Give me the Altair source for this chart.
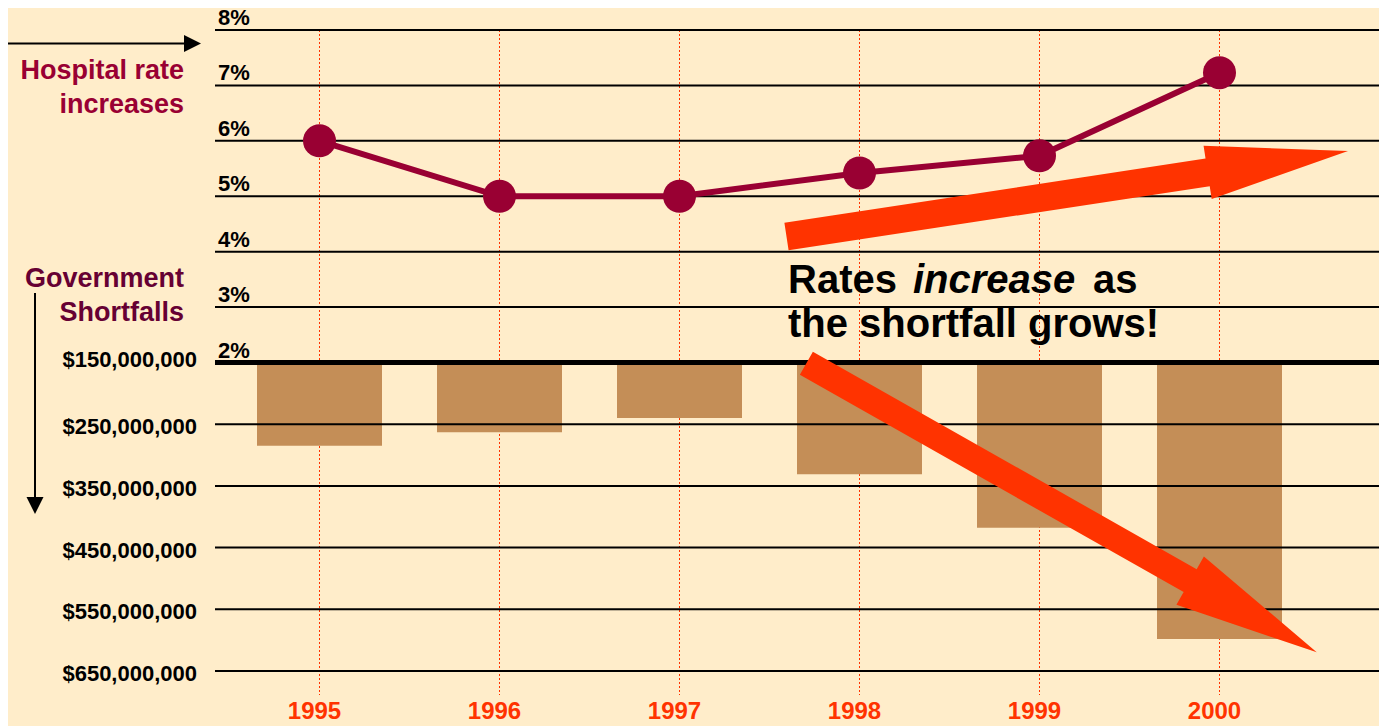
import altair as alt
import pandas as pd

# ---------------- data ----------------
years = [1995, 1996, 1997, 1998, 1999, 2000]
year_labels = ["1995", "1996", "1997", "1998", "1999", "2000"]
rate_pct = [6.0, 5.0, 5.0, 5.42, 5.73, 7.23]
shortfall_usd = [285e6, 263e6, 240e6, 331e6, 418e6, 598e6]

pct_ticks = [2, 3, 4, 5, 6, 7, 8]
pct_tick_labels = ["2%", "3%", "4%", "5%", "6%", "7%", "8%"]
usd_ticks = [150e6, 250e6, 350e6, 450e6, 550e6, 650e6]
usd_tick_labels = ["$150,000,000", "$250,000,000", "$350,000,000",
                   "$450,000,000", "$550,000,000", "$650,000,000"]

df = pd.DataFrame({"year": years, "label": year_labels,
                   "rate": rate_pct, "shortfall": shortfall_usd})
df_pct = pd.DataFrame({"v": pct_ticks, "label": pct_tick_labels})
df_usd = pd.DataFrame({"v": usd_ticks, "label": usd_tick_labels})
one = pd.DataFrame({"a": [0]})

# ---------------- styling ----------------
W, H = 1164, 641
BG = "#FFEDCA"
ORANGE = "#FF3300"
CRIMSON = "#990033"
MAROON = "#660033"
BAR = "#C48E57"
FONT = "Liberation Sans, Arial, Helvetica, sans-serif"

xscale = alt.Scale(domain=[1994.41944, 2000.886111], nice=False, zero=False, padding=0)
top_scale = alt.Scale(domain=[2, 8], range=[332.5, 0], nice=False, zero=False)
bot_scale = alt.Scale(domain=[150e6, 650e6], range=[332.5, 641], nice=False, zero=False)

X = alt.X("year:Q", scale=xscale, axis=None)

dotted = alt.Chart(df).mark_rule(color=ORANGE, strokeDash=[2, 2], strokeWidth=1).encode(
    x=X, y=alt.value(0), y2=alt.value(665))

bars = alt.Chart(df).mark_bar(size=125, color=BAR).encode(
    x=X,
    y=alt.Y("shortfall:Q", scale=bot_scale, axis=None),
    y2=alt.datum(150e6))

grid_top = alt.Chart(df_pct[df_pct.v > 2]).mark_rule(color="black", strokeWidth=2).encode(
    y=alt.Y("v:Q", scale=top_scale, axis=None), x=alt.value(0), x2=alt.value(W))

grid_bot = alt.Chart(df_usd[df_usd.v > 150e6]).mark_rule(color="black", strokeWidth=2).encode(
    y=alt.Y("v:Q", scale=bot_scale, axis=None), x=alt.value(0), x2=alt.value(W))

base_line = alt.Chart(df_pct[df_pct.v == 2]).mark_rule(color="black", strokeWidth=5).encode(
    y=alt.Y("v:Q", scale=top_scale, axis=None), x=alt.value(0), x2=alt.value(W))

line = alt.Chart(df).mark_line(color=CRIMSON, strokeWidth=6).encode(
    x=X, y=alt.Y("rate:Q", scale=top_scale, axis=None))

points = alt.Chart(df).mark_circle(size=1090, color=CRIMSON, opacity=1).encode(
    x=X, y=alt.Y("rate:Q", scale=top_scale, axis=None))

pct_labels = alt.Chart(df_pct).mark_text(
    align="left", baseline="alphabetic", dy=-5, fontSize=22, fontWeight="bold",
    font=FONT, color="black").encode(
    x=alt.value(3), y=alt.Y("v:Q", scale=top_scale, axis=None), text="label:N")

usd_labels = alt.Chart(df_usd[df_usd.v > 150e6]).mark_text(
    align="right", baseline="alphabetic", dy=10, fontSize=22, fontWeight="bold",
    font=FONT, color="black").encode(
    x=alt.value(-18), y=alt.Y("v:Q", scale=bot_scale, axis=None), text="label:N")

usd_label_first = alt.Chart(df_usd[df_usd.v == 150e6]).mark_text(
    align="right", baseline="alphabetic", dy=4, fontSize=22, fontWeight="bold",
    font=FONT, color="black").encode(
    x=alt.value(-18), y=alt.Y("v:Q", scale=bot_scale, axis=None), text="label:N")

year_text = alt.Chart(df).mark_text(
    align="center", baseline="alphabetic", dx=-5, fontSize=24, fontWeight="bold",
    font=FONT, color=ORANGE).encode(
    x=X, y=alt.value(689), text="label:N")


def label(txt, x, y, color, size, align="right", style="normal"):
    return alt.Chart(one).mark_text(
        align=align, baseline="alphabetic", fontSize=size, fontWeight="bold",
        fontStyle=style, font=FONT, color=color).encode(
        x=alt.value(x), y=alt.value(y), text=alt.value(txt))


side = [
    label("Hospital rate", -31, 49, CRIMSON, 27),
    label("increases", -31, 83, CRIMSON, 27),
    label("Government", -31, 257, MAROON, 27),
    label("Shortfalls", -31, 291, MAROON, 27),
]

arrow_r_line = alt.Chart(one).mark_rule(color="black", strokeWidth=2).encode(
    x=alt.value(-207), x2=alt.value(-29), y=alt.value(13.5))
arrow_r_head = alt.Chart(one).mark_point(
    shape="M-1,-1L1,0L-1,1Z", size=289, filled=True, color="black",
    opacity=1, strokeWidth=0).encode(x=alt.value(-22.5), y=alt.value(13.5))
arrow_d_line = alt.Chart(one).mark_rule(color="black", strokeWidth=2).encode(
    x=alt.value(-180), y=alt.value(263), y2=alt.value(470))
arrow_d_head = alt.Chart(one).mark_point(
    shape="M-1,-1L1,-1L0,1Z", size=289, filled=True, color="black",
    opacity=1, strokeWidth=0).encode(x=alt.value(-180), y=alt.value(475.5))

ARROW_A = "M-1,-0.049L0.5,-0.049L0.5,-0.095L1,0L0.5,0.095L0.5,0.049L-1,0.049Z"
ARROW_B = "M-1,-0.045L0.504,-0.045L0.504,-0.095L1,0L0.504,0.095L0.504,0.045L-1,0.045Z"

red_up = alt.Chart(one).mark_point(
    shape=ARROW_A, size=322624, angle=351.34, filled=True, color=ORANGE,
    opacity=1, strokeWidth=0).encode(x=alt.value(852.25), y=alt.value(163.75))
red_down = alt.Chart(one).mark_point(
    shape=ARROW_B, size=343982, angle=29.52, filled=True, color=ORANGE,
    opacity=1, strokeWidth=0).encode(x=alt.value(846.55), y=alt.value(477.8))

callout = [
    label("Rates", 573, 263, "black", 40, align="left"),
    label("increase", 698, 263, "black", 40, align="left", style="italic"),
    label("as", 878, 263, "black", 40, align="left"),
    label("the shortfall grows!", 573, 307, "black", 40, align="left"),
]

chart = alt.layer(
    dotted, bars, grid_top, grid_bot, base_line, line, points,
    pct_labels, usd_labels, usd_label_first, year_text,
    *side, arrow_r_line, arrow_r_head, arrow_d_line, arrow_d_head,
    red_up, red_down, *callout
).resolve_scale(y="independent").properties(
    width=W, height=H,
    autosize=alt.AutoSizeParams(type="none"),
    padding={"left": 207, "top": 22, "right": 0, "bottom": 55},
    background=BG,
).configure_view(stroke=None)

chart.save("out.html", embed_options={"renderer": "svg", "actions": False})
